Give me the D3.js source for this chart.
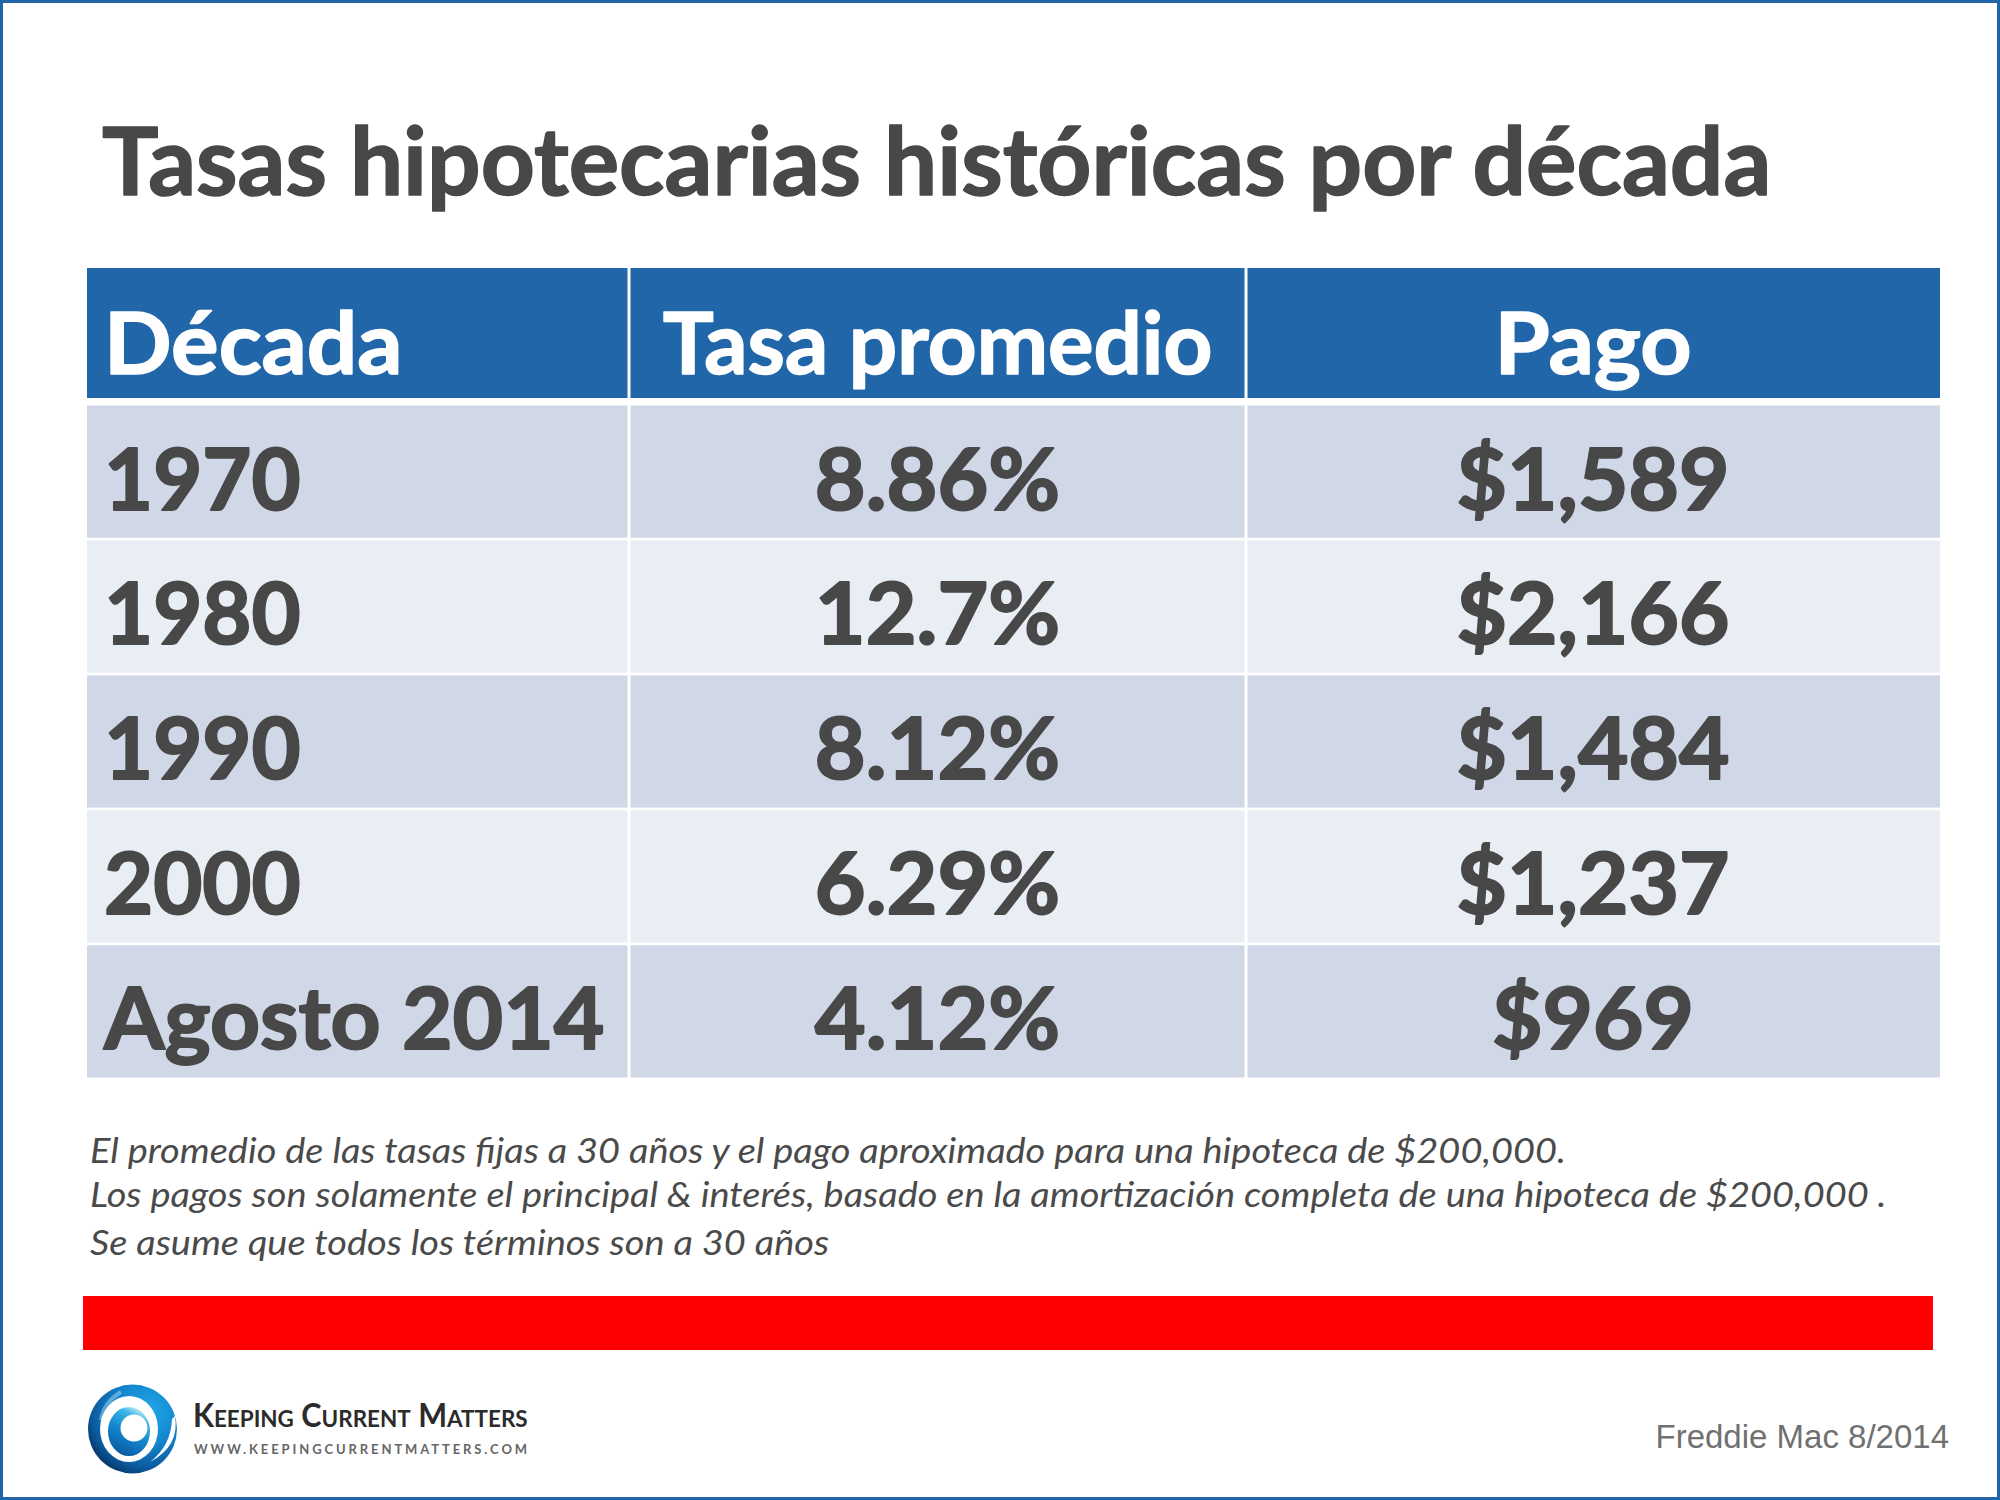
<!DOCTYPE html>
<html><head><meta charset="utf-8">
<script src="https://cdn.jsdelivr.net/npm/d3@7"></script>
<style>html,body{margin:0;padding:0;background:#fff}svg{display:block}</style>
</head><body><div id="c"></div>
<script>
const title = "Tasas hipotecarias históricas por década";
const headers = ["Década", "Tasa promedio", "Pago"];
const decades = ["1970", "1980", "1990", "2000", "Agosto 2014"];
const rates = ["8.86%", "12.7%", "8.12%", "6.29%", "4.12%"];
const payments = ["$1,589", "$2,166", "$1,484", "$1,237", "$969"];
const notes = [
  "El promedio de las tasas fijas a 30 años y el pago aproximado para una hipoteca de $200,000.",
  "Los pagos son solamente el principal & interés, basado en la amortización completa de una hipoteca de $200,000 .",
  "Se asume que todos los términos son a 30 años"
];
const source = "Freddie Mac 8/2014";
const brand = "KEEPING CURRENT MATTERS";
const brandUrl = "WWW.KEEPINGCURRENTMATTERS.COM";

const W = 2000, H = 1500;
const BLUE = "#2166a8", DARK = "#484848";
const svg = d3.select("#c").append("svg").attr("width", W).attr("height", H).attr("viewBox", `0 0 ${W} ${H}`);
const sans = "Lato, 'Open Sans', sans-serif";

// horizontally fit text to a share of its natural width (Calibri proportions differ from Lato)
function squeeze(sel, k) {
  sel.each(function (d, i) {
    const f = typeof k === "function" ? k(d, i) : k;
    const n = this.getComputedTextLength();
    d3.select(this).attr("textLength", n * f).attr("lengthAdjust", "spacingAndGlyphs");
  });
}
const heavy = (sel, color, w) => sel.attr("stroke", color).attr("stroke-width", w).attr("stroke-linejoin", "round");

svg.append("rect").attr("x", 1.5).attr("y", 1.5).attr("width", W - 3).attr("height", H - 3)
  .attr("fill", "#fff").attr("stroke", BLUE).attr("stroke-width", 3);

svg.append("text").text(title).attr("x", 102).attr("y", 195)
  .attr("font-family", sans).attr("font-weight", 700).attr("font-size", 94).attr("fill", DARK)
  .call(squeeze, 1.004).call(heavy, DARK, 1.5);

// table
const colEdges = [87, 629, 1246, 1940];
const rowY = d3.scaleBand().domain(decades).range([405.5, 1077.5]).paddingInner(0.02).paddingOuter(0);
const cols = [0, 1, 2];
const colX = i => colEdges[i];
const colCenter = i => (colEdges[i] + colEdges[i + 1]) / 2;

svg.append("g").selectAll("rect").data(cols).join("rect")
  .attr("x", i => colX(i) + (i ? 1.5 : 0))
  .attr("y", 268).attr("height", 130)
  .attr("width", i => colEdges[i + 1] - colEdges[i] - (i ? 1.5 : 0) - (i < 2 ? 1.5 : 0))
  .attr("fill", BLUE);

const rows = svg.append("g").selectAll("g").data(decades).join("g");
rows.selectAll("rect").data((d, r) => cols.map(c => ({ c, r, d }))).join("rect")
  .attr("x", d => colX(d.c) + (d.c ? 1.5 : 0))
  .attr("y", d => rowY(d.d))
  .attr("height", rowY.bandwidth())
  .attr("width", d => colEdges[d.c + 1] - colEdges[d.c] - (d.c ? 1.5 : 0) - (d.c < 2 ? 1.5 : 0))
  .attr("fill", d => d.r % 2 ? "#e9edf4" : "#d0d8e8");

const cellFont = 86;
const headFit = [1.035, 0.99, 1.04];
svg.append("g").selectAll("text").data(headers).join("text").text(d => d)
  .attr("x", (d, i) => i ? colCenter(i) : 104)
  .attr("y", 374)
  .attr("text-anchor", (d, i) => i ? "middle" : "start")
  .attr("font-family", sans).attr("font-weight", 700).attr("font-size", cellFont).attr("fill", "#fff")
  .call(squeeze, (d, i) => headFit[i]).call(heavy, "#fff", 1.5);

const base = d => rowY(d) + 104;
const cellFit = [d => d.length > 4 ? 1.015 : 0.985, () => 1.02, () => 1.012];
[decades, rates, payments].forEach((vals, c) => {
  svg.append("g").selectAll("text").data(vals).join("text").text(d => d)
    .attr("x", c ? colCenter(c) : 104)
    .attr("y", (d, i) => base(decades[i]))
    .attr("text-anchor", c ? "middle" : "start")
    .attr("font-family", sans).attr("font-weight", 700).attr("font-size", cellFont).attr("fill", DARK)
    .call(squeeze, cellFit[c]).call(heavy, DARK, 2);
});

// notes
const noteBase = [1163, 1207, 1255];
svg.append("g").selectAll("text").data(notes).join("text").text(d => d)
  .attr("x", 90).attr("y", (d, i) => noteBase[i])
  .attr("font-family", sans).attr("font-style", "italic").attr("font-size", 35).attr("fill", "#4a4a4a")
  .call(squeeze, 1.085);

// red band
svg.append("rect").attr("x", 83).attr("y", 1296).attr("width", 1850).attr("height", 54).attr("fill", "#ff0000");

// source
svg.append("text").text(source).attr("x", 1949).attr("y", 1448).attr("text-anchor", "end")
  .attr("font-family", "'Liberation Sans', Arial, sans-serif").attr("font-size", 33).attr("fill", "#707070");

// logo
const defs = svg.append("defs");
const g1 = defs.append("radialGradient").attr("id", "lg1").attr("cx", "0.68").attr("cy", "0.3").attr("r", "0.85");
[[0, "#20a8e8"], [0.45, "#1284cc"], [0.75, "#0b5a9e"], [1, "#08224c"]].forEach(s => g1.append("stop").attr("offset", s[0]).attr("stop-color", s[1]));
const g2 = defs.append("linearGradient").attr("id", "lg2").attr("x1", "0.75").attr("y1", "0.05").attr("x2", "0.35").attr("y2", "0.95");
[[0, "#bfeaf8"], [0.18, "#3cb4e6"], [0.55, "#1188cf"], [1, "#0c5ea6"]].forEach(s => g2.append("stop").attr("offset", s[0]).attr("stop-color", s[1]));
const logo = svg.append("g");
logo.append("ellipse").attr("cx", 132.5).attr("cy", 1429).attr("rx", 44.5).attr("ry", 44.5).attr("fill", "url(#lg1)");
logo.append("path").attr("d", "M101,1420 Q104,1402 121,1392").attr("fill", "none").attr("stroke", "#9fd4f0").attr("stroke-opacity", 0.55).attr("stroke-width", 4);
logo.append("ellipse").attr("cx", 129).attr("cy", 1429).attr("rx", 29).attr("ry", 33).attr("fill", "#fff");
logo.append("ellipse").attr("cx", 129).attr("cy", 1431.5).attr("rx", 21).attr("ry", 24.5).attr("fill", "url(#lg2)");
logo.append("ellipse").attr("cx", 134).attr("cy", 1428).attr("rx", 13.5).attr("ry", 13.5).attr("fill", "#fff");
logo.append("path").attr("d", "M175,1416 Q180,1446 150,1462 Q171,1446 172,1419 Z").attr("fill", "#fff");

const kcm = svg.append("text").attr("x", 193).attr("y", 1427).attr("font-family", sans).attr("font-weight", 700).attr("fill", "#2b2b2b");
brand.split(" ").forEach((w, i) => {
  kcm.append("tspan").text((i ? " " : "") + w[0]).attr("font-size", 32);
  kcm.append("tspan").text(w.slice(1)).attr("font-size", 23.5);
});
kcm.call(squeeze, 0.955);
svg.append("text").text(brandUrl).attr("x", 194).attr("y", 1454)
  .attr("font-family", sans).attr("font-weight", 700).attr("font-size", 13).attr("letter-spacing", 2.9).attr("fill", "#666");
</script></body></html>
